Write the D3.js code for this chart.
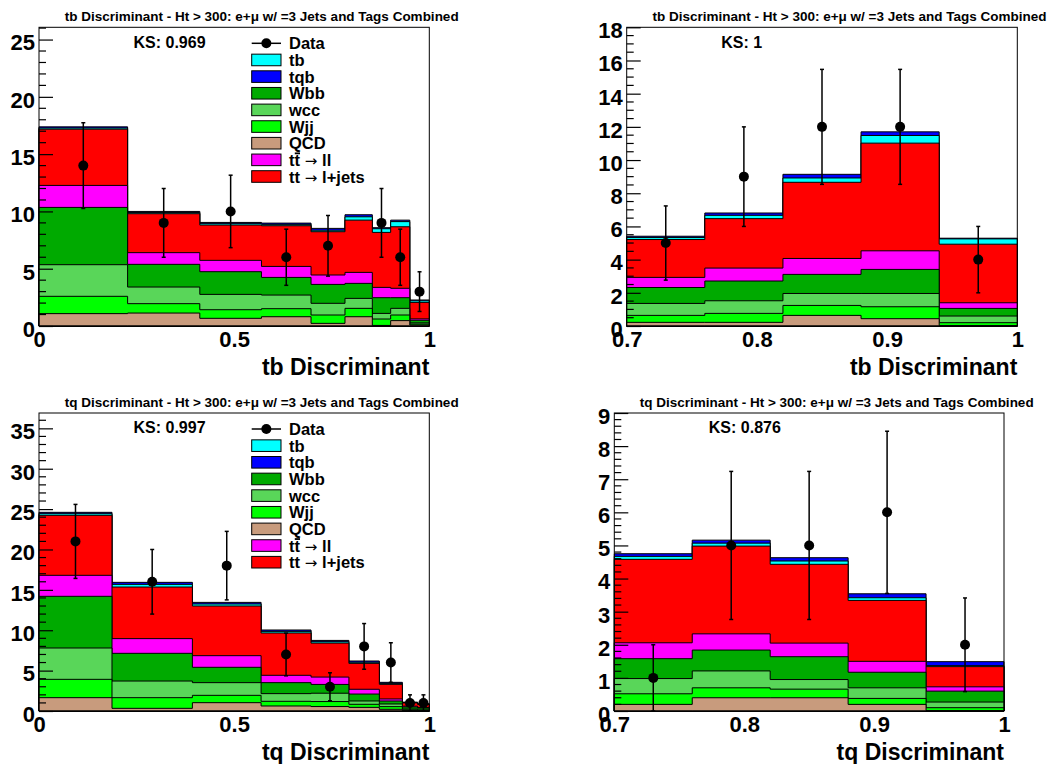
<!DOCTYPE html>
<html><head><meta charset="utf-8">
<script src="https://cdn.jsdelivr.net/npm/d3@7"></script>
<style>
html,body{margin:0;padding:0;background:#fff;}
svg{display:block;}
</style></head><body>
<svg id="c" width="1053" height="764"></svg>
<script>
// ---------------- DATA ----------------
// stacking order bottom -> top
const stackKeys = ["QCD", "Wjj", "wcc", "Wbb", "ttll", "ttlj", "tb", "tqb"];
const legendKeys = ["Data", "tb", "tqb", "Wbb", "wcc", "Wjj", "QCD", "ttll", "ttlj"];
const legendLabels = ["Data", "tb", "tqb", "Wbb", "wcc", "Wjj", "QCD", "tt\u0304 \u2192 ll", "tt \u2192 l+jets"];

// Panel 1: tb Discriminant, full range
const p1Edges = [0, 0.227, 0.412, 0.570, 0.697, 0.784, 0.854, 0.901, 0.950, 1];
const p1QCD  = [1.08, 1.13, 0.67, 0.81, 0.23, 0.81, 0.05, 0.47, 0.08];
const p1Wjj  = [1.51, 0.82, 0.75, 0.70, 0.73, 0.73, 0.56, 0.49, 0.09];
const p1wcc  = [2.76, 1.45, 1.34, 1.19, 1.02, 0.87, 0.49, 0.58, 0.10];
const p1Wbb  = [5.00, 1.98, 1.98, 1.54, 1.65, 1.31, 1.37, 0.93, 0.23];
const p1ttll = [1.92, 1.02, 0.99, 0.96, 0.82, 0.96, 0.90, 0.82, 0.12];
const p1ttlj = [4.91, 3.40, 3.08, 3.55, 3.78, 4.56, 4.80, 5.37, 1.44];
const p1tb   = [0.10, 0.10, 0.12, 0.12, 0.13, 0.29, 0.32, 0.45, 0.14];
const p1tqb  = [0.10, 0.10, 0.11, 0.11, 0.16, 0.18, 0.09, 0.13, 0.07];
const p1Data = [14, 9, 10, 6, 7, null, 9, 6, 3];
const p1YTicks = [0, 5, 10, 15, 20, 25];
const p1XTicks = [0, 0.5, 1];

// Panel 2: tb Discriminant, 0.7 - 1
const p2Edges = [0.70, 0.76, 0.82, 0.88, 0.94, 1.00];
const p2QCD  = [0.22, 0.22, 0.64, 0.44, 0.02];
const p2Wjj  = [0.42, 0.54, 0.60, 0.72, 0.18];
const p2wcc  = [0.72, 0.76, 0.72, 0.80, 0.40];
const p2Wbb  = [0.96, 1.19, 1.15, 1.45, 0.46];
const p2ttll = [0.61, 0.78, 0.96, 1.12, 0.34];
const p2ttlj = [2.28, 2.98, 4.59, 6.49, 3.53];
const p2tb   = [0.12, 0.20, 0.26, 0.46, 0.32];
const p2tqb  = [0.08, 0.14, 0.22, 0.22, 0.04];
const p2Data = [5, 9, 12, 12, 4];
const p2YTicks = [0, 2, 4, 6, 8, 10, 12, 14, 16, 18];
const p2XTicks = [0.7, 0.8, 0.9, 1];

// Panel 3: tq Discriminant, full range
const p3Edges = [0, 0.187, 0.393, 0.569, 0.697, 0.794, 0.872, 0.931, 0.970, 1];
const p3QCD  = [1.65, 0.33, 1.03, 0.62, 0.55, 0.45, 0.21, 0.03, 0.02];
const p3Wjj  = [2.27, 1.32, 0.91, 0.58, 0.62, 0.38, 0.33, 0.12, 0.06];
const p3wcc  = [3.88, 2.06, 1.57, 0.95, 1.03, 0.41, 0.33, 0.10, 0.06];
const p3Wbb  = [6.40, 3.43, 1.90, 1.36, 1.09, 0.86, 0.37, 0.25, 0.22];
const p3ttll = [2.60, 1.82, 1.44, 0.91, 0.91, 0.59, 0.25, 0.10, 0.08];
const p3ttlj = [7.43, 6.39, 6.15, 5.24, 4.21, 3.21, 1.81, 0.40, 0.36];
const p3tb   = [0.20, 0.33, 0.25, 0.20, 0.17, 0.14, 0.12, 0.05, 0.05];
const p3tqb  = [0.17, 0.25, 0.20, 0.17, 0.16, 0.15, 0.13, 0.05, 0.05];
const p3Data = [21, 16, 18, 7, 3, 8, 6, 1, 1];
const p3YTicks = [0, 5, 10, 15, 20, 25, 30, 35];
const p3XTicks = [0, 0.5, 1];

// Panel 4: tq Discriminant, 0.7 - 1
const p4Edges = [0.70, 0.76, 0.82, 0.88, 0.94, 1.00];
const p4QCD  = [0.20, 0.40, 0.40, 0.20, 0.01];
const p4Wjj  = [0.32, 0.30, 0.26, 0.18, 0.09];
const p4wcc  = [0.46, 0.51, 0.29, 0.32, 0.17];
const p4Wbb  = [0.60, 0.63, 0.69, 0.47, 0.33];
const p4ttll = [0.48, 0.49, 0.41, 0.33, 0.13];
const p4ttlj = [2.52, 2.65, 2.38, 1.84, 0.61];
const p4tb   = [0.09, 0.09, 0.10, 0.08, 0.03];
const p4tqb  = [0.08, 0.09, 0.10, 0.12, 0.12];
const p4Data = [1, 5, 5, 6, 2];
const p4YTicks = [0, 1, 2, 3, 4, 5, 6, 7, 8, 9];
const p4XTicks = [0.7, 0.8, 0.9, 1];

const titles = [
  "tb Discriminant - Ht > 300: e+\u03bc w/ =3 Jets and Tags Combined",
  "tb Discriminant - Ht > 300: e+\u03bc w/ =3 Jets and Tags Combined",
  "tq Discriminant - Ht > 300: e+\u03bc w/ =3 Jets and Tags Combined",
  "tq Discriminant - Ht > 300: e+\u03bc w/ =3 Jets and Tags Combined"
];
const xTitles = ["tb Discriminant", "tb Discriminant", "tq Discriminant", "tq Discriminant"];
const ksLabels = ["KS: 0.969", "KS: 1", "KS: 0.997", "KS: 0.876"];
const yMaxes = [26.07, 18, 36.9, 9];
const yMinorSteps = [1, 0.5, 1, 0.2];

// ---------------- STYLE ----------------
const colors = {
  tb: "#00ffff", tqb: "#0000ff", Wbb: "#00aa00", wcc: "#59d659",
  Wjj: "#00ff00", QCD: "#c89b7d", ttll: "#ff00ff", ttlj: "#ff0000"
};
const FONT = '"Liberation Sans", Arial, Helvetica, sans-serif';

const panels = [
  { box: {l: 39, r: 429.3, t: 27.3, b: 326}, xDomain: [0, 1], edges: p1Edges,
    series: {QCD: p1QCD, Wjj: p1Wjj, wcc: p1wcc, Wbb: p1Wbb, ttll: p1ttll, ttlj: p1ttlj, tb: p1tb, tqb: p1tqb},
    data: p1Data, yTicks: p1YTicks, xTicks: p1XTicks, legend: true },
  { box: {l: 626.7, r: 1017.3, t: 27.3, b: 326}, xDomain: [0.7, 1], edges: p2Edges,
    series: {QCD: p2QCD, Wjj: p2Wjj, wcc: p2wcc, Wbb: p2Wbb, ttll: p2ttll, ttlj: p2ttlj, tb: p2tb, tqb: p2tqb},
    data: p2Data, yTicks: p2YTicks, xTicks: p2XTicks, legend: false },
  { box: {l: 39, r: 429.3, t: 413, b: 711}, xDomain: [0, 1], edges: p3Edges,
    series: {QCD: p3QCD, Wjj: p3Wjj, wcc: p3wcc, Wbb: p3Wbb, ttll: p3ttll, ttlj: p3ttlj, tb: p3tb, tqb: p3tqb},
    data: p3Data, yTicks: p3YTicks, xTicks: p3XTicks, legend: true },
  { box: {l: 614.3, r: 1004, t: 413, b: 711}, xDomain: [0.7, 1], edges: p4Edges,
    series: {QCD: p4QCD, Wjj: p4Wjj, wcc: p4wcc, Wbb: p4Wbb, ttll: p4ttll, ttlj: p4ttlj, tb: p4tb, tqb: p4tqb},
    data: p4Data, yTicks: p4YTicks, xTicks: p4XTicks, legend: false }
];

const svg = d3.select("#c");
svg.append("rect").attr("width", 1053).attr("height", 764).attr("fill", "#fff");

panels.forEach((p, pi) => {
  const g = svg.append("g");
  const B = p.box;
  const x = d3.scaleLinear().domain(p.xDomain).range([B.l, B.r]);
  const y = d3.scaleLinear().domain([0, yMaxes[pi]]).range([B.b, B.t]);
  const nb = p.edges.length - 1;

  // cumulative stack
  const cum = [];
  let run = new Array(nb).fill(0);
  stackKeys.forEach(k => { run = run.map((v, i) => v + p.series[k][i]); cum.push(run.slice()); });

  const area = d3.area().curve(d3.curveStepAfter)
    .x(d => x(d.x)).y0(y(0)).y1(d => y(d.v));
  for (let k = stackKeys.length - 1; k >= 0; k--) {
    const pts = p.edges.map((e, i) => ({x: e, v: cum[k][Math.min(i, nb - 1)]}));
    g.append("path").attr("d", area(pts))
      .attr("fill", colors[stackKeys[k]])
      .attr("stroke", "#000").attr("stroke-width", 1);
  }

  // data points with Poisson errors
  p.data.forEach((v, i) => {
    if (v == null) return;
    const cx = x((p.edges[i] + p.edges[i + 1]) / 2);
    const e = Math.sqrt(v);
    const lo = Math.max(0, v - e), hi = v + e;
    g.append("line").attr("x1", cx).attr("x2", cx).attr("y1", y(lo)).attr("y2", y(hi))
      .attr("stroke", "#000").attr("stroke-width", 1.5);
    [lo, hi].forEach(yy => {
      g.append("line").attr("x1", cx - 2).attr("x2", cx + 2).attr("y1", y(yy)).attr("y2", y(yy))
        .attr("stroke", "#000").attr("stroke-width", 1.5);
    });
    g.append("circle").attr("cx", cx).attr("cy", y(v)).attr("r", 5).attr("fill", "#000");
  });

  // frame
  g.append("rect").attr("x", B.l).attr("y", B.t).attr("width", B.r - B.l).attr("height", B.b - B.t)
    .attr("fill", "none").attr("stroke", "#000").attr("stroke-width", 1);

  // y axis (ticks pointing inward)
  const yAxis = d3.axisLeft(y).tickValues(p.yTicks).tickSizeInner(-14).tickSizeOuter(0)
    .tickPadding(4).tickFormat(d3.format("d"));
  const ag = g.append("g").attr("transform", `translate(${B.l},0)`).call(yAxis);
  ag.select(".domain").remove();
  ag.selectAll("line").attr("stroke", "#000").attr("stroke-width", 1.2);
  ag.selectAll("text").attr("font-size", 22).attr("font-weight", "bold")
    .attr("font-family", FONT).attr("dy", "0.47em").attr("fill", "#000");
  const minorVals = d3.range(0, yMaxes[pi] + 1e-9, yMinorSteps[pi])
    .filter(v => !p.yTicks.some(t => Math.abs(t - v) < 1e-6));
  g.selectAll(null).data(minorVals).enter().append("line")
    .attr("x1", B.l).attr("x2", B.l + 7)
    .attr("y1", d => y(d)).attr("y2", d => y(d))
    .attr("stroke", "#000").attr("stroke-width", 1.2);

  // x axis labels
  const xAxis = d3.axisBottom(x).tickValues(p.xTicks).tickSize(0).tickPadding(5.7).tickFormat(d3.format("~g"));
  const xg = g.append("g").attr("transform", `translate(0,${B.b})`).call(xAxis);
  xg.select(".domain").remove();
  xg.selectAll("text").attr("font-size", 22).attr("font-weight", "bold")
    .attr("font-family", FONT).attr("fill", "#000");

  // x title
  g.append("text").attr("x", B.r).attr("y", B.b + 49).attr("text-anchor", "end")
    .attr("font-family", FONT).attr("font-weight", "bold").attr("font-size", 23)
    .text(xTitles[pi]);

  // title
  g.append("text").attr("x", (B.l + B.r) / 2 + 27.5).attr("y", B.t - 6.4).attr("text-anchor", "middle")
    .attr("font-family", FONT).attr("font-weight", "bold").attr("font-size", 13.5)
    .text(titles[pi]);

  // KS
  g.append("text").attr("x", B.l + 94.5).attr("y", B.t + 20.4)
    .attr("font-family", FONT).attr("font-weight", "bold").attr("font-size", 16)
    .text(ksLabels[pi]);

  // legend
  if (p.legend) {
    const bx = B.l + 212.7, bw = 29.3, bh = 11.6, tx = B.l + 250;
    legendKeys.forEach((k, i) => {
      const cy = B.t + 16 + i * 16.65;
      if (k === "Data") {
        g.append("line").attr("x1", bx).attr("x2", bx + bw).attr("y1", cy).attr("y2", cy)
          .attr("stroke", "#000").attr("stroke-width", 1.5);
        g.append("circle").attr("cx", bx + bw / 2).attr("cy", cy).attr("r", 5).attr("fill", "#000");
      } else {
        g.append("rect").attr("x", bx).attr("y", cy - bh / 2).attr("width", bw).attr("height", bh)
          .attr("fill", colors[k]).attr("stroke", "#000").attr("stroke-width", 1);
      }
      const t = g.append("text").attr("x", tx).attr("y", cy + 6)
        .attr("font-family", FONT).attr("font-weight", "bold").attr("font-size", 16.5);
      if (k === "ttll" || k === "ttlj") {
        const lab = legendLabels[i];
        const parts = lab.split(" \u2192 ");
        const hasBar = parts[0].indexOf("\u0304") >= 0;
        const first = parts[0].replace("\u0304", "");
        t.append("tspan").text(first);
        t.append("tspan").attr("font-weight", "normal")
          .attr("font-family", '"DejaVu Sans", sans-serif').attr("font-size", 15)
          .text(" \u2192 ");
        t.append("tspan").text(parts[1]);
        if (hasBar) {
          const node = t.node();
          const s = node.getStartPositionOfChar(1), e = node.getEndPositionOfChar(1);
          g.append("line").attr("x1", s.x + 0.3).attr("x2", e.x)
            .attr("y1", cy + 6 - 12.5).attr("y2", cy + 6 - 12.5)
            .attr("stroke", "#000").attr("stroke-width", 1.8);
        }
      } else {
        t.text(legendLabels[i]);
      }
    });
  }
});
</script>
</body></html>
